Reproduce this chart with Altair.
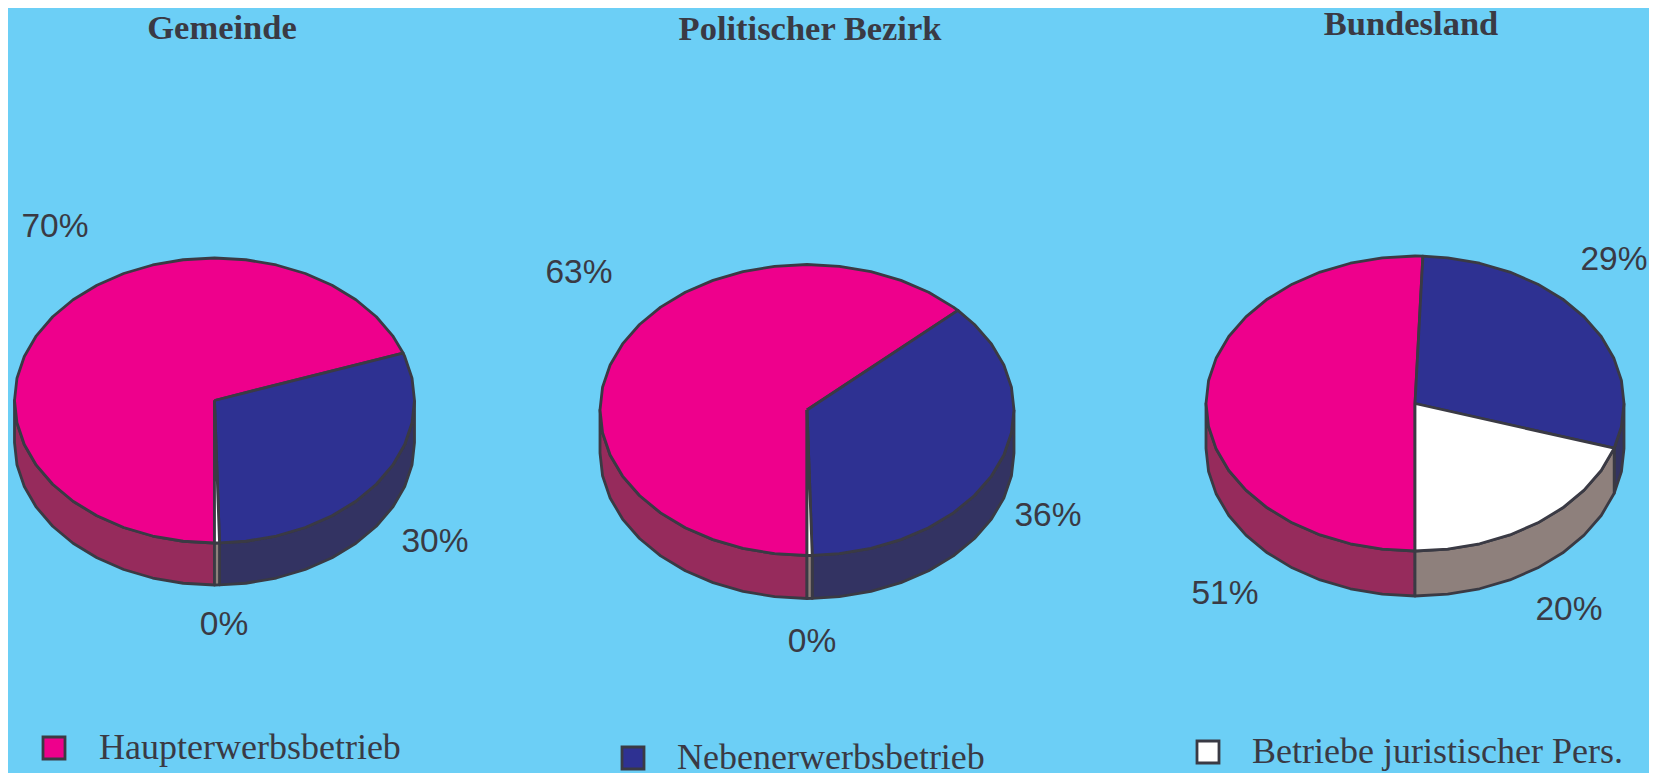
import math
import altair as alt
import pandas as pd

W, H = 1657, 773
BG = "#6CCFF6"
INK = "#3A3A44"

# Shares (percent), in clockwise order from the 6 o'clock direction
pies = ["Gemeinde", "Politischer Bezirk", "Bundesland"]
haupt = [69.6, 63.0, 50.6]
neben = [30.0, 36.6, 29.3]
jurist = [0.4, 0.4, 20.1]
top_colors = ["#EE008C", "#2E3192", "#FFFFFF"]
side_colors = ["#962B5C", "#333362", "#8E807C"]

# Pie geometry on the page (centre, radii, depth)
cx = [214.5, 807, 1415]
cy = [400.5, 410, 403.5]
rx = [200, 207, 209]
ry = [142.5, 145.5, 147.5]
depth = [42, 43, 45]
STEP = 9.0

title_x = [222, 810, 1411]
title_y = [29, 30, 25]

label_text = ["70%", "30%", "0%", "63%", "36%", "0%", "51%", "29%", "20%"]
label_x = [55, 435, 224, 579, 1048, 812, 1225, 1614, 1569]
label_y = [227, 542, 625, 273, 516, 642, 594, 260, 610]

legend_names = ["Haupterwerbsbetrieb", "Nebenerwerbsbetrieb", "Betriebe juristischer Pers."]
legend_mark_x = [54, 633, 1208]
legend_text_x = [99, 677, 1252]
legend_y = [748, 758, 752]

xs = alt.Scale(domain=[8, W - 8], range=[0, W - 16])
ys = alt.Scale(domain=[H, 8], range=[H - 8, 0])
X = alt.X("x:Q", scale=xs, axis=None)
Y = alt.Y("y:Q", scale=ys, axis=None)


def arc(i, a, b):
    pts = [a]
    t = (math.floor(a / STEP) + 1) * STEP
    while t < b:
        pts.append(t)
        t += STEP
    pts.append(b)
    return [(cx[i] + rx[i] * math.sin(math.radians(p)), cy[i] - ry[i] * math.cos(math.radians(p))) for p in pts]


def poly(points, fill):
    rows = [{"x": p[0], "y": p[1], "o": n} for n, p in enumerate(points + points[:1])]
    return (
        alt.Chart(pd.DataFrame(rows))
        .mark_line(fill=fill, stroke=INK, strokeWidth=2.8, strokeJoin="round", interpolate="linear")
        .encode(x=X, y=Y, order="o:Q")
    )


sides, tops = [], []
for i in range(len(pies)):
    a = 180.0
    for share, top, side in zip((haupt[i], neben[i], jurist[i]), top_colors, side_colors):
        b = a + share * 3.6
        for lo, hi in ((90, 270), (450, 630)):
            s, e = max(a, lo), min(b, hi)
            if e > s:
                edge = arc(i, s, e)
                sides.append(poly(edge + [(p[0], p[1] + depth[i]) for p in reversed(edge)], side))
        tops.append(poly([(cx[i], cy[i])] + arc(i, a, b), top))
        a = b

titles = alt.Chart(pd.DataFrame({"t": pies, "x": title_x, "y": title_y})).mark_text(
    font="Liberation Serif", fontWeight="bold", fontSize=34.5, color=INK, align="center", baseline="middle"
).encode(x=X, y=Y, text="t:N")

labels = alt.Chart(pd.DataFrame({"t": label_text, "x": label_x, "y": label_y})).mark_text(
    font="Liberation Sans", fontSize=33.5, color=INK, align="center", baseline="middle"
).encode(x=X, y=Y, text="t:N")

legend_marks = alt.Chart(pd.DataFrame({"c": top_colors, "x": legend_mark_x, "y": legend_y})).mark_point(
    shape="square", filled=True, size=484, stroke=INK, strokeWidth=2.8, opacity=1
).encode(x=X, y=Y, fill=alt.Fill("c:N", scale=None))

legend_text = alt.Chart(pd.DataFrame({"t": legend_names, "x": legend_text_x, "y": legend_y})).mark_text(
    font="Liberation Serif", fontSize=36, color=INK, align="left", baseline="middle"
).encode(x=X, y=Y, text="t:N")

chart = alt.layer(*sides, *tops, titles, labels, legend_marks, legend_text).properties(
    width=W - 16, height=H - 8, background=BG, padding=0,
    autosize=alt.AutoSizeParams(type="none"),
).configure_view(stroke=None)

chart.save("out.html", embed_options={"renderer": "svg", "actions": False})
